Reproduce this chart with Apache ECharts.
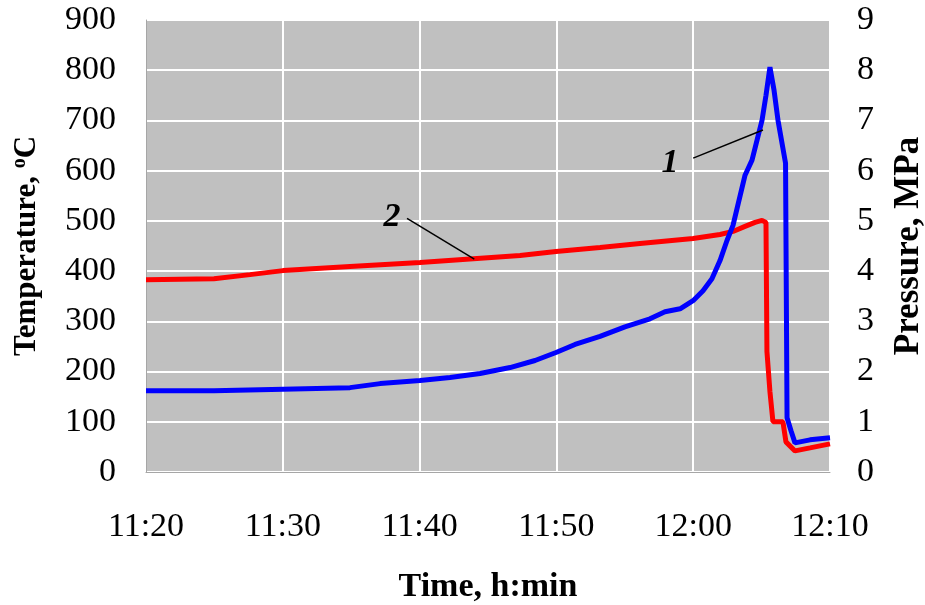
<!DOCTYPE html>
<html>
<head>
<meta charset="utf-8">
<script src="https://cdn.jsdelivr.net/npm/echarts@6/dist/echarts.min.js"></script>
<style>html,body{margin:0;padding:0;background:#fff;}#c{width:925px;height:605px;}</style>
</head>
<body>
<div id="c"></div>
<script>
// minutes after 11:20
var tempTime = [0, 4.97, 10.01, 14.91, 17.11, 20.03, 22.22, 24.42, 26.61, 28.44, 29.97, 31.36, 33.19, 35.01, 36.84, 37.94, 39.04, 39.99, 40.72, 41.37, 41.96, 42.47, 42.91, 43.79, 44.30, 45.03, 45.32, 45.61, 45.91, 46.20, 46.75, 46.86, 47.15, 47.44, 48.54, 50];
var tempValues = [162, 162, 165, 168, 176, 182, 188, 196, 208, 222, 238, 254, 270, 289, 305, 319, 325, 341, 361, 385, 421, 461, 491, 591, 621, 700, 750, 806, 760, 700, 615, 108, 82, 58, 64, 68];
var presTime = [0, 4.97, 7.6, 10.01, 14.91, 20.03, 24.2, 27.34, 29.97, 33.19, 36.11, 39.99, 41.96, 42.91, 43.79, 44.52, 45.03, 45.32, 45.39, 45.61, 45.83, 46.56, 46.78, 47.44, 48.54, 50];
var presValues = [3.83, 3.85, 3.93, 4.01, 4.09, 4.17, 4.25, 4.31, 4.39, 4.47, 4.55, 4.65, 4.73, 4.79, 4.89, 4.97, 5.01, 4.97, 2.4, 1.6, 1.0, 1.0, 0.6, 0.42, 0.48, 0.56];
var xTickLabels = ['11:20', '11:30', '11:40', '11:50', '12:00', '12:10'];
var tempTicks = [0, 100, 200, 300, 400, 500, 600, 700, 800, 900];
var presTicks = [0, 1, 2, 3, 4, 5, 6, 7, 8, 9];
// annotation anchors (data space)
var label1 = {text: '1', at: [38.3, 615], from: [40.0, 625], to: [45.1, 681]};
var label2 = {text: '2', at: [17.98, 5.07], from: [19.08, 5.05], to: [24.0, 4.24]};

function pairs(xs, ys) { return xs.map(function (x, i) { return [x, ys[i]]; }); }

var font = 'Liberation Serif, Times New Roman, serif';
var chart = echarts.init(document.getElementById('c'), null, {renderer: 'canvas'});
chart.setOption({
  animation: false,
  backgroundColor: '#ffffff',
  grid: {left: 146, right: 95, top: 20, bottom: 133, show: true, backgroundColor: '#c0c0c0', borderWidth: 0, containLabel: false, outerBoundsMode: 'none'},
  xAxis: {
    type: 'value', min: 0, max: 50, interval: 10,
    name: 'Time, h:min', nameLocation: 'middle', nameGap: 98,
    nameTextStyle: {fontFamily: font, fontSize: 34, fontWeight: 'bold', color: '#000'},
    axisLine: {show: true, lineStyle: {color: '#a6a6a6', width: 1}},
    axisTick: {show: false},
    axisLabel: {margin: 38, fontFamily: font, fontSize: 34, color: '#000',
      formatter: function (v) { return xTickLabels[Math.round(v / 10)]; }},
    splitLine: {show: true, lineStyle: {color: '#ffffff', width: 2}}
  },
  yAxis: [{
    type: 'value', min: 0, max: 900, interval: 100,
    name: '{a|Temperature, }{s|o}{a|C}', nameLocation: 'middle', nameGap: 102, nameRotate: 90,
    nameTextStyle: {rich: {
      a: {fontFamily: font, fontSize: 31, fontWeight: 'bold', color: '#000'},
      s: {fontFamily: font, fontSize: 20, fontWeight: 'bold', color: '#000', verticalAlign: 'top', padding: [0, 0, 14, 0]}
    }},
    axisLine: {show: true, lineStyle: {color: '#a6a6a6', width: 1}},
    axisTick: {show: false},
    axisLabel: {margin: 30, fontFamily: font, fontSize: 34, color: '#000',
      formatter: function (v) { return String(tempTicks[Math.round(v / 100)]); }},
    splitLine: {show: true, lineStyle: {color: '#ffffff', width: 2}}
  }, {
    type: 'value', min: 0, max: 9, interval: 1,
    name: 'Pressure, MPa', nameLocation: 'middle', nameGap: 61, nameRotate: 90,
    nameTextStyle: {fontFamily: font, fontSize: 35, fontWeight: 'bold', color: '#000'},
    axisLine: {show: false},
    axisTick: {show: false},
    axisLabel: {margin: 27, fontFamily: font, fontSize: 34, color: '#000',
      formatter: function (v) { return String(presTicks[Math.round(v)]); }},
    splitLine: {show: false}
  }],
  series: [{
    name: '1', type: 'line', yAxisIndex: 0, data: pairs(tempTime, tempValues),
    showSymbol: false, symbol: 'none', lineStyle: {color: '#0000ff', width: 5}, z: 3,
    markLine: {silent: true, symbol: 'none', label: {show: false},
      lineStyle: {color: '#000', width: 1.5, type: 'solid'},
      data: [[{coord: label1.from}, {coord: label1.to}]]},
    markPoint: {symbol: 'circle', symbolSize: 0, data: [{coord: label1.at, value: label1.text}],
      label: {show: true, position: 'inside', formatter: label1.text, fontFamily: font, fontSize: 34, fontWeight: 'bold', fontStyle: 'italic', color: '#000'}}
  }, {
    name: '2', type: 'line', yAxisIndex: 1, data: pairs(presTime, presValues),
    showSymbol: false, symbol: 'none', lineStyle: {color: '#ff0000', width: 5}, z: 2,
    markLine: {silent: true, symbol: 'none', label: {show: false},
      lineStyle: {color: '#000', width: 1.5, type: 'solid'},
      data: [[{coord: label2.from}, {coord: label2.to}]]},
    markPoint: {symbol: 'circle', symbolSize: 0, data: [{coord: label2.at, value: label2.text}],
      label: {show: true, position: 'inside', formatter: label2.text, fontFamily: font, fontSize: 34, fontWeight: 'bold', fontStyle: 'italic', color: '#000'}}
  }]
});
</script>
</body>
</html>
